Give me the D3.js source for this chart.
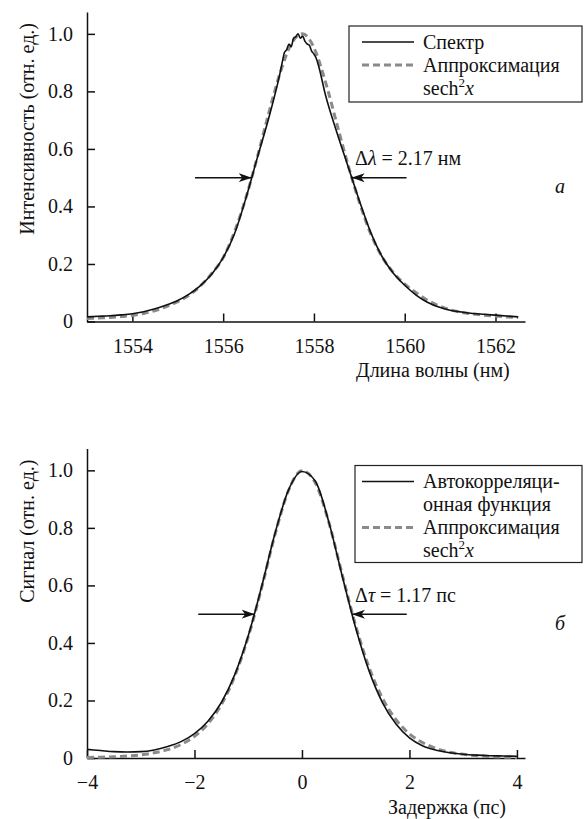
<!DOCTYPE html>
<meta charset="utf-8">
<script src="https://d3js.org/d3.v7.min.js"></script>

<style>body { margin: 0; background: #fff; }</style>

<div id="my_dataviz"></div>

<script>

// ---- top panel (a): spectrum ----
var wlTicks = [1554, 1556, 1558, 1560, 1562];
var specWl = [1553, 1553.25, 1553.5, 1553.75, 1554, 1554.25, 1554.5, 1554.75, 1555, 1555.25,
  1555.5, 1555.75, 1556, 1556.25, 1556.5, 1556.75, 1557, 1557.25, 1557.3, 1557.35,
  1557.4, 1557.45, 1557.5, 1557.55, 1557.6, 1557.65, 1557.7, 1557.75, 1557.8, 1557.85,
  1557.9, 1557.95, 1558, 1558.05, 1558.1, 1558.25, 1558.5, 1558.75, 1559, 1559.25,
  1559.5, 1559.75, 1560, 1560.25, 1560.5, 1560.75, 1561, 1561.25, 1561.5, 1561.75,
  1562, 1562.25, 1562.5];
var specI = [0.016, 0.018, 0.020, 0.023, 0.027, 0.034, 0.044, 0.057, 0.073, 0.095,
  0.125, 0.165, 0.222, 0.305, 0.428, 0.568, 0.705, 0.862, 0.900, 0.935,
  0.945, 0.965, 0.955, 0.985, 0.990, 1.000, 0.985, 0.992, 0.975, 0.965,
  0.960, 0.940, 0.930, 0.915, 0.890, 0.790, 0.660, 0.540, 0.420, 0.310,
  0.226, 0.168, 0.126, 0.092, 0.067, 0.050, 0.039, 0.033, 0.028, 0.025,
  0.022, 0.019, 0.016];
var fitWl = [1553, 1553.25, 1553.5, 1553.75, 1554, 1554.25, 1554.5, 1554.75, 1555, 1555.25,
  1555.5, 1555.75, 1556, 1556.25, 1556.5, 1556.75, 1557, 1557.25, 1557.5, 1557.75,
  1558, 1558.25, 1558.5, 1558.75, 1559, 1559.25, 1559.5, 1559.75, 1560, 1560.25,
  1560.5, 1560.75, 1561, 1561.25, 1561.5, 1561.75, 1562, 1562.25, 1562.5];
var fitI = [0.010, 0.012, 0.014, 0.017, 0.021, 0.028, 0.038, 0.052, 0.069, 0.092,
  0.124, 0.167, 0.222, 0.312, 0.430, 0.570, 0.722, 0.862, 0.965, 1.000,
  0.952, 0.835, 0.690, 0.545, 0.415, 0.305, 0.225, 0.170, 0.130, 0.100,
  0.074, 0.055, 0.041, 0.032, 0.026, 0.022, 0.019, 0.016, 0.014];

// ---- bottom panel (б): autocorrelation ----
var delayTicks = [-4, -2, 0, 2, 4];
var delay = [-4, -3.75, -3.5, -3.25, -3, -2.75, -2.5, -2.25, -2, -1.75, -1.5, -1.25, -1,
  -0.75, -0.5, -0.25, 0, 0.25, 0.5, 0.75, 1, 1.25, 1.5, 1.75, 2, 2.25, 2.5, 2.75, 3,
  3.25, 3.5, 3.75, 4];
var acf = [0.030, 0.026, 0.022, 0.021, 0.022, 0.028, 0.040, 0.057, 0.085, 0.128, 0.193, 0.290, 0.425,
  0.596, 0.782, 0.932, 0.996, 0.962, 0.820, 0.632, 0.452, 0.302, 0.192, 0.118, 0.070, 0.042, 0.027, 0.018, 0.013,
  0.010, 0.008, 0.007, 0.006];
var acfFit = [0.002, 0.003, 0.004, 0.007, 0.011, 0.018, 0.029, 0.047, 0.075, 0.119, 0.186, 0.285, 0.421,
  0.592, 0.778, 0.930, 0.999, 0.956, 0.819, 0.637, 0.460, 0.314, 0.207, 0.133, 0.084, 0.053, 0.033, 0.020, 0.013,
  0.008, 0.005, 0.003, 0.002];

var yTicks = [0, 0.2, 0.4, 0.6, 0.8, 1.0];

var FONT = "'Liberation Serif'";

var svg = d3.select("#my_dataviz")
  .append("svg")
    .attr("width", 585)
    .attr("height", 819);

// arrow head
svg.append("defs").append("marker")
    .attr("id", "arr")
    .attr("viewBox", "0 -5 13 10")
    .attr("refX", 13)
    .attr("refY", 0)
    .attr("markerWidth", 13)
    .attr("markerHeight", 10)
    .attr("markerUnits", "userSpaceOnUse")
    .attr("orient", "auto")
  .append("path")
    .attr("d", "M0,-4.5L13,0L0,4.5L3.5,0Z")
    .attr("fill", "#111");

function label(x, y) {
  return svg.append("text")
    .attr("x", x)
    .attr("y", y)
    .attr("font-size", 20)
    .attr("fill", "#111")
    .style("font-family", FONT);
}

function drawPanel(p) {
  var x = d3.scaleLinear().domain(p.xDomain).range([87, 525]);
  var y = d3.scaleLinear().domain([0, 1.076]).range([p.y0, p.y0 - 309.5]);

  // x axis, ticks pointing inward
  var xa = svg.append("g")
    .attr("transform", "translate(0," + p.y0 + ")")
    .call(d3.axisBottom(x).tickValues(p.xTicks).tickSizeInner(-8).tickSizeOuter(0).tickPadding(17)
      .tickFormat(function(d) { return d < 0 ? "\u2212" + Math.abs(d) : d; }));
  // y axis
  var ya = svg.append("g")
    .attr("transform", "translate(87,0)")
    .call(d3.axisLeft(y).tickValues(yTicks).tickSizeInner(-8).tickSizeOuter(0).tickPadding(14)
      .tickFormat(function(d) { return d === 0 ? "0" : d3.format(".1f")(d); }));

  [xa, ya].forEach(function(a) {
    a.attr("font-family", null).attr("font-size", 20);
    a.selectAll("path, line").attr("stroke", "#111").attr("stroke-width", 1.5);
    a.selectAll("text").attr("fill", "#111").attr("font-size", 20).style("font-family", FONT);
  });

  var line = d3.line()
    .x(function(d) { return x(d[0]); })
    .y(function(d) { return y(d[1]); })
    .curve(d3.curveMonotoneX);

  // fit (dashed, grey) under the measured curve
  svg.append("path")
    .datum(d3.zip(p.fitX, p.fitY))
    .attr("fill", "none")
    .attr("stroke", "#8a8a8a")
    .attr("stroke-width", 3)
    .attr("stroke-dasharray", "7,4")
    .attr("d", line);

  svg.append("path")
    .datum(d3.zip(p.dataX, p.dataY))
    .attr("fill", "none")
    .attr("stroke", "#111")
    .attr("stroke-width", 1.6)
    .attr("d", line);

  // FWHM arrows
  p.arrows.forEach(function(a) {
    svg.append("line")
      .attr("x1", x(a[0])).attr("x2", x(a[1]))
      .attr("y1", y(0.5)).attr("y2", y(0.5))
      .attr("stroke", "#111")
      .attr("stroke-width", 1.5)
      .attr("marker-end", "url(#arr)");
  });

  label(355, p.y0 - 156.5).html(p.fwhm);

  // axis titles
  label(p.xTitleX, p.y0 + 55.5).text(p.xTitle);

  label(0, 0)
    .attr("transform", "translate(34," + (p.y0 - 298.5) + ") rotate(-90)")
    .attr("text-anchor", "end")
    .text(p.yTitle);

  // panel letter
  label(555, p.y0 + p.letterDy)
    .attr("font-style", "italic")
    .text(p.letter);

  // legend
  svg.append("rect")
    .attr("x", p.legend[0]).attr("y", p.legend[1])
    .attr("width", 582 - p.legend[0]).attr("height", p.legend[2])
    .attr("fill", "#fff")
    .attr("stroke", "#222")
    .attr("stroke-width", 1.2);
  var ty = p.legend[1] + 22.5;
  p.legendRows.forEach(function(r) {
    if (r.sample) {
      svg.append("line")
        .attr("x1", 362).attr("x2", 414)
        .attr("y1", ty - 6.5).attr("y2", ty - 6.5)
        .attr("stroke", r.sample === "solid" ? "#111" : "#8a8a8a")
        .attr("stroke-width", r.sample === "solid" ? 1.6 : 3)
        .attr("stroke-dasharray", r.sample === "solid" ? null : "7,4");
    }
    label(423, ty).html(r.text);
    ty += 23;
  });
}

var sechText = 'sech<tspan dy="-8" font-size="13">2</tspan><tspan dy="8" font-style="italic">x</tspan>';

drawPanel({
  y0: 321.5,
  xDomain: [1553, 1562.65],
  xTicks: wlTicks,
  dataX: specWl, dataY: specI,
  fitX: fitWl, fitY: fitI,
  arrows: [[1555.38, 1556.63], [1560.04, 1558.83]],
  fwhm: "\u0394<tspan font-style=\"italic\">\u03bb</tspan> = 2.17 нм",
  xTitle: "Длина волны (нм)", xTitleX: 356,
  yTitle: "Интенсивность (отн. ед.)",
  letter: "a", letterDy: -129,
  legend: [349, 26, 76],
  legendRows: [
    {sample: "solid", text: "Спектр"},
    {sample: "dash", text: "Аппроксимация"},
    {text: sechText}
  ]
});

drawPanel({
  y0: 758,
  xDomain: [-4, 4.15],
  xTicks: delayTicks,
  dataX: delay, dataY: acf,
  fitX: delay, fitY: acfFit,
  arrows: [[-1.93, -0.88], [1.95, 0.93]],
  fwhm: "\u0394<tspan font-style=\"italic\">\u03c4</tspan> = 1.17 пс",
  xTitle: "Задержка (пс)", xTitleX: 388,
  yTitle: "Сигнал (отн. ед.)",
  letter: "б", letterDy: -128,
  legend: [355, 465.5, 97],
  legendRows: [
    {sample: "solid", text: "Автокорреляци-"},
    {text: "онная функция"},
    {sample: "dash", text: "Аппроксимация"},
    {text: sechText}
  ]
});

</script>
